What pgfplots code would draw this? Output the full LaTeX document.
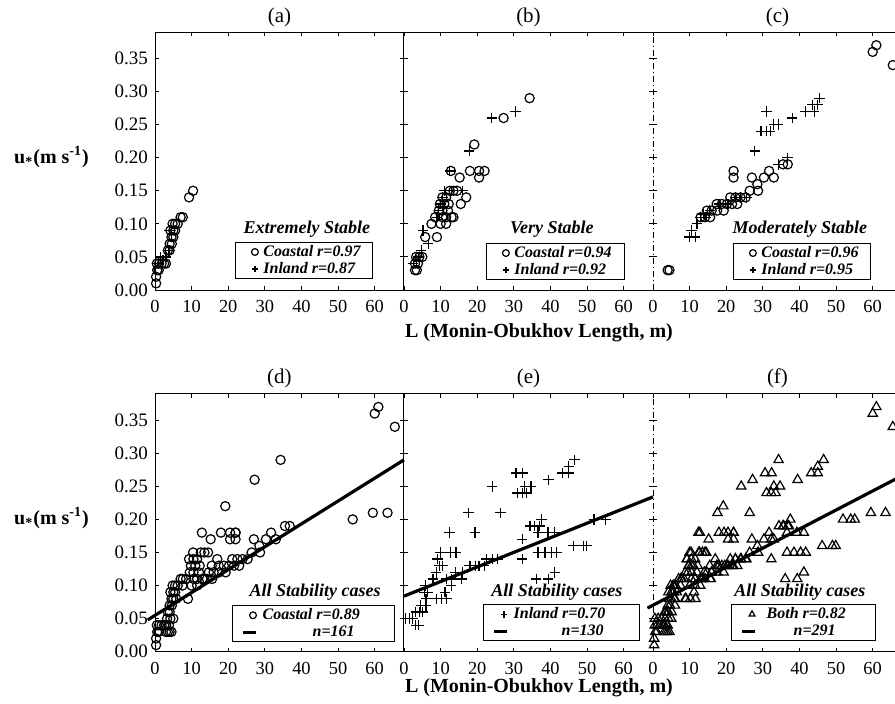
\documentclass[border=0pt]{standalone}
\usepackage{fontspec}
\setmainfont{Liberation Serif}
\usepackage{pgfplots}
\usepackage{pgfplotstable}
\pgfplotsset{compat=1.18}
\newcommand\lstrut{\rule[-2.4pt]{0pt}{8.4pt}}

\pgfplotstableread{
x y
0.3 0.01
0.3 0.02
0.6 0.03
1.0 0.03
0.5 0.04
1.1 0.04
1.8 0.04
2.5 0.04
3.0 0.04
3.5 0.06
4.0 0.06
4.0 0.07
4.6 0.07
4.5 0.08
5.0 0.08
4.2 0.09
5.0 0.09
5.5 0.09
4.8 0.10
5.5 0.10
6.2 0.10
7.0 0.11
7.6 0.11
9.3 0.14
10.4 0.15
}\CA
\pgfplotstableread{
x y
1.0 0.04
1.6 0.05
2.2 0.045
3.0 0.05
3.8 0.06
4.0 0.09
4.6 0.085
}\IA
\pgfplotstableread{
x y
3.0 0.03
3.5 0.03
3.0 0.04
3.8 0.04
3.3 0.05
4.2 0.05
5.0 0.05
5.8 0.08
7.5 0.10
9.0 0.08
10.0 0.10
11.5 0.10
8.5 0.11
10.5 0.11
11.5 0.11
13.0 0.11
13.5 0.11
9.5 0.12
10.5 0.12
12.0 0.12
9.8 0.13
11.0 0.13
12.2 0.13
10.5 0.14
11.5 0.14
12.5 0.15
13.5 0.15
14.5 0.15
15.5 0.13
17.0 0.14
15.2 0.17
12.8 0.18
18.0 0.18
20.5 0.18
22.0 0.18
20.5 0.17
19.2 0.22
27.2 0.26
34.3 0.29
}\CB
\pgfplotstableread{
x y
2.5 0.04
3.5 0.045
4.0 0.05
4.7 0.06
5.2 0.09
6.6 0.07
9.0 0.11
9.5 0.12
10.0 0.13
10.5 0.14
11.0 0.15
13.0 0.15
16.0 0.15
12.5 0.18
17.8 0.21
24.0 0.26
30.5 0.27
}\IB
\pgfplotstableread{
x y
4.0 0.03
4.5 0.03
13.0 0.11
14.2 0.11
15.6 0.11
14.7 0.12
16.0 0.12
17.5 0.12
19.3 0.12
17.4 0.13
18.8 0.13
20.2 0.13
21.6 0.13
23.0 0.13
21.1 0.14
22.5 0.14
23.9 0.14
25.3 0.14
26.4 0.15
28.7 0.15
28.5 0.16
27.0 0.17
30.3 0.17
33.0 0.17
31.7 0.18
22.0 0.17
22.0 0.18
35.5 0.19
36.8 0.19
60.0 0.36
61.0 0.37
65.5 0.34
}\CC
\pgfplotstableread{
x y
10.0 0.08
11.5 0.08
10.5 0.09
12.0 0.10
13.0 0.11
14.5 0.11
13.8 0.115
15.5 0.12
18.0 0.13
20.5 0.13
22.5 0.14
24.0 0.14
25.5 0.14
27.8 0.21
34.2 0.19
36.7 0.20
29.5 0.24
31.0 0.24
32.0 0.24
33.0 0.25
34.2 0.25
31.0 0.27
38.0 0.26
41.7 0.27
44.0 0.27
43.5 0.28
45.0 0.28
45.5 0.29
}\IC
\pgfplotstableread{
x y
54.0 0.20
59.5 0.21
63.5 0.21
}\CX
\pgfplotstableread{
x y
0.5 0.05
1.4 0.05
2.3 0.05
3.2 0.04
4.0 0.04
3.2 0.06
4.2 0.06
5.1 0.06
4.6 0.07
6.0 0.07
5.5 0.09
5.8 0.10
6.0 0.08
6.5 0.09
7.9 0.11
8.8 0.12
9.2 0.14
9.7 0.13
10.5 0.13
10.0 0.15
11.2 0.09
8.8 0.08
10.2 0.08
11.6 0.08
11.5 0.11
12.9 0.10
13.0 0.11
14.0 0.12
15.8 0.11
16.0 0.12
18.0 0.13
20.5 0.13
22.5 0.14
25.5 0.14
12.4 0.18
12.7 0.15
14.2 0.15
17.6 0.21
19.4 0.18
17.8 0.13
19.6 0.13
21.9 0.13
24.1 0.14
24.1 0.25
26.4 0.21
30.6 0.27
32.4 0.27
31.0 0.24
32.3 0.24
33.5 0.24
33.0 0.25
34.7 0.25
32.3 0.17
32.3 0.14
34.4 0.19
35.7 0.19
37.1 0.19
37.5 0.20
36.6 0.18
39.3 0.18
41.2 0.18
36.6 0.15
38.5 0.15
40.3 0.15
41.7 0.15
36.1 0.11
39.4 0.11
41.2 0.12
39.5 0.26
43.2 0.27
45.0 0.27
45.0 0.28
46.6 0.29
46.2 0.16
49.0 0.16
49.9 0.16
51.9 0.20
55.1 0.20
}\IE

\pgfplotsset{
  panel/.style={
    scale only axis, width=124.5pt, height=129pt,
    xmin=0, xmax=68, ymin=0, ymax=0.39,
    xtick={0,10,20,30,40,50,60},
    ytick={0,0.05,0.1,0.15,0.2,0.25,0.3,0.35},
    tick align=inside, major tick length=2pt,
    tick style={black, line width=0.5pt},
    axis line style={draw=none},
    clip=false,
    scaled ticks=false,
    /pgf/number format/assume math mode=true,
    tick label style={font=\fontsize{9.5}{11}\selectfont},
    xticklabel style={yshift=-1.5pt, font=\fontsize{9.2}{11}\selectfont},
    yticklabel style={/pgf/number format/fixed,
      /pgf/number format/fixed zerofill, /pgf/number format/precision=2},
    legend cell align=left,
    legend style={anchor=north west, draw=black, line width=0.5pt,
      inner xsep=0pt, inner ysep=0.5pt, nodes={inner sep=0.5pt},
      font=\fontsize{8}{9.5}\selectfont\bfseries\itshape, row sep=0pt},
  },
  noylab/.style={yticklabels={,,}},
  ylab/.style={},
  mymark legend/.style={legend image code/.code={\path (0pt,0pt) (13pt,0pt);
      \draw[##1,mark size=1.7pt] plot coordinates {(9.5pt,0pt)};}},
  myline legend/.style={legend image code/.code={\path (0pt,0pt) (13pt,0pt);
      \draw[##1] (4.5pt,0pt) -- (11pt,0pt);}},
  circ/.style={only marks, mark=o, mark size=2.3pt, mark options={line width=0.6pt}, black},
  plus/.style={only marks, mark=+, mark size=2.6pt, mark options={line width=0.6pt}, black},
  tri/.style={only marks, mark=triangle, mark size=2.7pt, mark options={line width=0.6pt}, black},
  reg/.style={black, line width=1.6pt, mark=none},
}
\tikzset{ltitle/.style={font=\fontsize{9}{10}\selectfont\bfseries\itshape},
  ptitle/.style={font=\fontsize{10.5}{12}\selectfont, yshift=7.5pt},
  ddot/.style={line width=0.5pt, dash pattern=on 3pt off 1.5pt on 0.5pt off 1.5pt}}

\begin{document}
\begin{tikzpicture}
\useasboundingbox (0pt,0pt) rectangle (447.5pt,-351.5pt);

% ---------- (a) ----------
\begin{axis}[panel, ylab, at={(77.5pt,-145pt)}, anchor=south west,
  legend style={at={(0.321,0.186)}}]
\draw[line width=0.5pt] (rel axis cs:0,0) rectangle (rel axis cs:1,1);
\addplot[circ, mymark legend] table {\CA};
\addlegendentry{\makebox[54pt][l]{\lstrut Coastal r=0.97}}
\addplot[plus, mymark legend] table {\IA};
\addlegendentry{\makebox[54pt][l]{\lstrut Inland r=0.87}}
\node[ltitle] at (rel axis cs:0.61,0.236) {Extremely Stable};
\node[ptitle] at (rel axis cs:0.5,1) {(a)};
\end{axis}

% ---------- (b) ----------
\begin{axis}[panel, noylab, at={(202pt,-145pt)}, anchor=south west,
  legend style={at={(0.329,0.182)}}]
\draw[line width=0.5pt] (rel axis cs:0,0) -- (rel axis cs:1,0);
\draw[line width=0.5pt] (rel axis cs:0,1) -- (rel axis cs:1,1);
\addplot[circ, mymark legend] table {\CB};
\addlegendentry{\makebox[54.5pt][l]{\lstrut Coastal r=0.94}}
\addplot[plus, mymark legend] table {\IB};
\addlegendentry{\makebox[54.5pt][l]{\lstrut Inland r=0.92}}
\node[ltitle] at (rel axis cs:0.594,0.236) {Very Stable};
\node[ptitle] at (rel axis cs:0.5,1) {(b)};
\end{axis}

% ---------- (c) ----------
\begin{axis}[panel, noylab, at={(326.5pt,-145pt)}, anchor=south west,
  legend style={at={(0.321,0.182)}}]
\draw[line width=0.5pt] (rel axis cs:0,0) -- (rel axis cs:1,0) -- (rel axis cs:1,1) -- (rel axis cs:0,1);
\draw[ddot] (rel axis cs:0,0) -- (rel axis cs:0,1);
\addplot[circ, mymark legend] table {\CC};
\addlegendentry{\makebox[54pt][l]{\lstrut Coastal r=0.96}}
\addplot[plus, mymark legend] table {\IC};
\addlegendentry{\makebox[54pt][l]{\lstrut Inland r=0.95}}
\node[ltitle] at (rel axis cs:0.59,0.236) {Moderately Stable};
\node[ptitle] at (rel axis cs:0.5,1) {(c)};
\end{axis}

% ---------- (d) ----------
\begin{axis}[panel, ylab, at={(77.5pt,-325.85pt)}, anchor=south west,
  legend style={at={(0.309,0.18)}}]
\draw[line width=0.5pt] (rel axis cs:0,0) rectangle (rel axis cs:1,1);
\addplot[circ, mymark legend] table {\CA};
\addlegendentry{\makebox[65.5pt][l]{\lstrut Coastal r=0.89}}
\addplot[circ, forget plot] table {\CB};
\addplot[circ, forget plot] table {\CC};
\addplot[circ, forget plot] table {\CX};
\addplot[reg, myline legend] coordinates {(-2,0.048) (68,0.29)};
\addlegendentry{\makebox[65.5pt][r]{\lstrut n=161\hspace{19.5pt}}}
\node[ltitle] at (rel axis cs:0.643,0.23) {All Stability cases};
\node[ptitle] at (rel axis cs:0.5,1) {(d)};
\end{axis}

% ---------- (e) ----------
\begin{axis}[panel, noylab, at={(202pt,-325.85pt)}, anchor=south west,
  legend style={at={(0.317,0.184)}}]
\draw[line width=0.5pt] (rel axis cs:0,0) -- (rel axis cs:1,0);
\draw[line width=0.5pt] (rel axis cs:0,1) -- (rel axis cs:1,1);
\addplot[plus, mymark legend] table {\IE};
\addlegendentry{\makebox[62.5pt][l]{\lstrut Inland r=0.70}}
\addplot[reg, myline legend] coordinates {(0,0.084) (68,0.234)};
\addlegendentry{\makebox[62.5pt][r]{\lstrut n=130\hspace{17.5pt}}}
\node[ltitle] at (rel axis cs:0.614,0.23) {All Stability cases};
\node[ptitle] at (rel axis cs:0.5,1) {(e)};
\end{axis}

% ---------- (f) ----------
\begin{axis}[panel, noylab, at={(326.5pt,-325.85pt)}, anchor=south west,
  legend style={at={(0.313,0.184)}}]
\draw[line width=0.5pt] (rel axis cs:0,0) -- (rel axis cs:1,0) -- (rel axis cs:1,1) -- (rel axis cs:0,1);
\draw[ddot] (rel axis cs:0,0) -- (rel axis cs:0,1);
\addplot[tri, mymark legend] table {\CA};
\addlegendentry{\makebox[56.5pt][l]{\lstrut\hspace{2.5pt}Both r=0.82}}
\addplot[tri, forget plot] table {\CB};
\addplot[tri, forget plot] table {\CC};
\addplot[tri, forget plot] table {\CX};
\addplot[tri, forget plot] table {\IE};
\addplot[reg, myline legend] coordinates {(-1.5,0.066) (68,0.266)};
\addlegendentry{\makebox[56.5pt][r]{\lstrut n=291\hspace{19.5pt}}}
\node[ltitle] at (rel axis cs:0.59,0.23) {All Stability cases};
\node[ptitle] at (rel axis cs:0.5,1) {(f)};
\end{axis}

% axis labels
\node[font=\fontsize{10}{12}\selectfont\bfseries] at (269.5pt,-166.5pt) {L (Monin-Obukhov Length, m)};
\node[font=\fontsize{10}{12}\selectfont\bfseries] at (269.5pt,-344pt) {L (Monin-Obukhov Length, m)};
\node[font=\fontsize{10}{12}\selectfont\bfseries] at (25.75pt,-78.5pt) {u\textsubscript{*}(m s\textsuperscript{-1})};
\node[font=\fontsize{10}{12}\selectfont\bfseries] at (25.75pt,-259pt) {u\textsubscript{*}(m s\textsuperscript{-1})};
\end{tikzpicture}
\end{document}
